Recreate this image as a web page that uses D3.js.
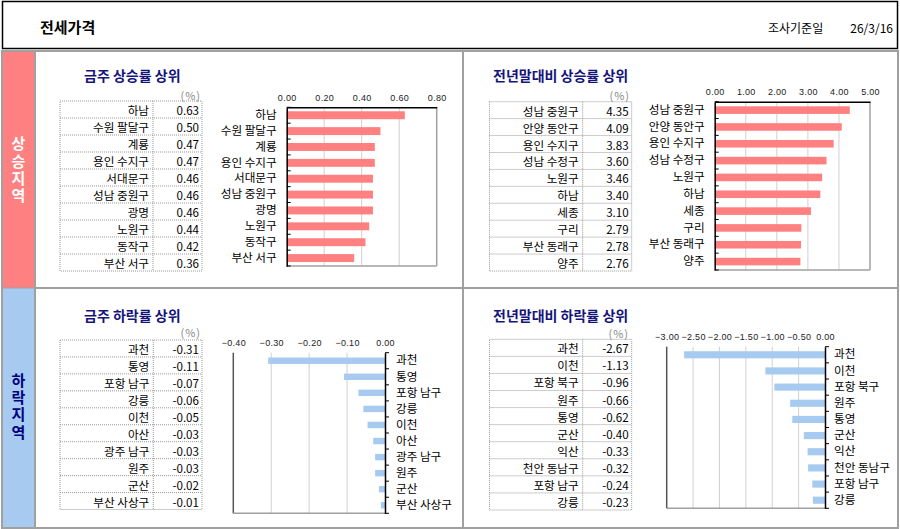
<!DOCTYPE html>
<html><head><meta charset="utf-8">
<script src="https://cdn.jsdelivr.net/npm/d3@7"></script>
<style>
body{margin:0;background:#fff;}
svg text{font-family:"Noto Sans CJK KR","Noto Sans",sans-serif;}
.tick text{font-family:"Liberation Sans",Arial,sans-serif;}
.side{writing-mode:vertical-rl;text-orientation:upright;}
</style></head>
<body><svg id="c" width="900" height="529"></svg>
<script>
// ---- data ----
const headerTitle = "전세가격";
const surveyLabel = "조사기준일";
const surveyDate = "26/3/16";
const sideUp = "상승지역";
const sideDown = "하락지역";

const weekUpNames = ["하남","수원 팔달구","계룡","용인 수지구","서대문구","성남 중원구","광명","노원구","동작구","부산 서구"];
const weekUpValues = [0.63,0.50,0.47,0.47,0.46,0.46,0.46,0.44,0.42,0.36];
const weekUpTicks = [0,0.2,0.4,0.6,0.8];

const ytdUpNames = ["성남 중원구","안양 동안구","용인 수지구","성남 수정구","노원구","하남","세종","구리","부산 동래구","양주"];
const ytdUpValues = [4.35,4.09,3.83,3.60,3.46,3.40,3.10,2.79,2.78,2.76];
const ytdUpTicks = [0,1,2,3,4,5];

const weekDownNames = ["과천","통영","포항 남구","강릉","이천","아산","광주 남구","원주","군산","부산 사상구"];
const weekDownValues = [-0.308,-0.108,-0.070,-0.057,-0.046,-0.031,-0.026,-0.026,-0.016,-0.011];
const weekDownTicks = [-0.4,-0.3,-0.2,-0.1,0];

const ytdDownNames = ["과천","이천","포항 북구","원주","통영","군산","익산","천안 동남구","포항 남구","강릉"];
const ytdDownValues = [-2.67,-1.13,-0.96,-0.66,-0.62,-0.40,-0.33,-0.32,-0.24,-0.23];
const ytdDownTicks = [-3,-2.5,-2,-1.5,-1,-0.5,0];

// ---- drawing ----
const svg = d3.select("#c");
const GRAY = "#a0a0a0", PINK = "#ff8080", BLUE = "#a6caf0", NAVY = "#14147a";
const FS = 11.6;

// header
svg.append("rect").attr("x",2.5).attr("y",1.5).attr("width",895).attr("height",47)
  .attr("fill","#fff").attr("stroke","#000").attr("stroke-width",1.5);
svg.append("text").attr("x",40).attr("y",26).attr("dominant-baseline","central")
  .attr("font-size",15).attr("font-weight","bold").text(headerTitle);
svg.append("text").attr("x",768).attr("y",27).attr("dominant-baseline","central")
  .attr("font-size",12).text(surveyLabel);
svg.append("text").attr("x",893).attr("y",27).attr("dominant-baseline","central")
  .attr("text-anchor","end").attr("font-size",12).text(surveyDate);

// main frame
svg.append("rect").attr("x",2).attr("y",51).attr("width",896).attr("height",477)
  .attr("fill","#fff").attr("stroke",GRAY).attr("stroke-width",2);
svg.append("rect").attr("x",3).attr("y",52).attr("width",32).attr("height",236).attr("fill",PINK);
svg.append("rect").attr("x",3).attr("y",288).attr("width",32).attr("height",239).attr("fill",BLUE);
svg.append("line").attr("x1",35).attr("x2",35).attr("y1",51).attr("y2",528).attr("stroke",GRAY).attr("stroke-width",2);
svg.append("line").attr("x1",35).attr("x2",898).attr("y1",288).attr("y2",288).attr("stroke",GRAY).attr("stroke-width",2);
svg.append("line").attr("x1",3).attr("x2",35).attr("y1",288).attr("y2",288).attr("stroke",GRAY).attr("stroke-width",1);
svg.append("line").attr("x1",463).attr("x2",463).attr("y1",51).attr("y2",528).attr("stroke",GRAY).attr("stroke-width",2);

function sideText(str, cx, yTop, color){
  svg.append("text").attr("class","side").attr("x",cx).attr("y",yTop)
    .attr("font-size",15).attr("font-weight","bold").attr("fill",color)
    .attr("letter-spacing",2.4).text(str);
}
sideText(sideUp,18.5,136,"#fff");
sideText(sideDown,18.5,372.5,"#000080");

function panel(cfg, names, values, ticks, color){
  const g = svg.append("g");
  // title
  g.append("text").attr("x",cfg.tx).attr("y",cfg.ty).attr("dominant-baseline","central")
    .attr("font-size",14).attr("font-weight","bold").attr("fill",NAVY).text(cfg.title);
  // unit
  g.append("text").attr("x",cfg.ux).attr("y",cfg.uy).attr("dominant-baseline","central")
    .attr("text-anchor","end").attr("font-size",11).attr("fill","#888")
    .attr("letter-spacing",1).text("(%)");
  // table
  const rows = d3.scaleBand().domain(names).range([cfg.tTop,cfg.tBot]);
  const tb = g.append("g").attr("stroke","#999").attr("stroke-dasharray","1,1").attr("fill","none");
  tb.append("rect").attr("x",cfg.t0).attr("y",cfg.tTop).attr("width",cfg.t1-cfg.t0).attr("height",cfg.tBot-cfg.tTop);
  tb.append("line").attr("x1",cfg.ts).attr("x2",cfg.ts).attr("y1",cfg.tTop).attr("y2",cfg.tBot);
  tb.selectAll(".rl").data(names.slice(1)).join("line")
    .attr("x1",cfg.t0).attr("x2",cfg.t1).attr("y1",d=>rows(d)).attr("y2",d=>rows(d));
  g.selectAll(".tn").data(names).join("text")
    .attr("x",cfg.ts-4).attr("y",d=>rows(d)+rows.bandwidth()/2+0.5)
    .attr("text-anchor","end").attr("dominant-baseline","central").attr("font-size",FS).text(d=>d);
  g.selectAll(".tv").data(values).join("text")
    .attr("x",cfg.t1-3).attr("y",(d,i)=>rows(names[i])+rows.bandwidth()/2+0.5)
    .attr("text-anchor","end").attr("dominant-baseline","central").attr("font-size",FS)
    .text(d=>d.toFixed(2));

  // chart
  const x = d3.scaleLinear().domain(d3.extent(ticks)).range([cfg.px0,cfg.px1]);
  const y = d3.scaleBand().domain(names).range([cfg.py0,cfg.py1])
    .paddingInner(cfg.pad).paddingOuter(cfg.pad/2);
  // gridlines
  g.selectAll(".gl").data(ticks.slice(1,-1)).join("line")
    .attr("x1",d=>x(d)).attr("x2",d=>x(d)).attr("y1",cfg.py0).attr("y2",cfg.py1)
    .attr("stroke","#d0d0d0").attr("stroke-width",1);
  // frame (gray sides)
  const neg = ticks[0] < 0;
  const farX = neg ? cfg.px0 : cfg.px1;
  g.append("line").attr("x1",farX).attr("x2",farX).attr("y1",cfg.py0).attr("y2",cfg.py1)
    .attr("stroke",neg ? "#555" : GRAY).attr("stroke-width",1.5);
  g.append("line").attr("x1",cfg.px0).attr("x2",cfg.px1).attr("y1",cfg.py1).attr("y2",cfg.py1)
    .attr("stroke",GRAY).attr("stroke-width",1.5);
  // bars
  g.selectAll(".bar").data(values).join("rect")
    .attr("x",d=>x(Math.min(0,d))).attr("width",d=>Math.abs(x(d)-x(0)))
    .attr("y",(d,i)=>y(names[i])).attr("height",y.bandwidth()).attr("fill",color);
  // top value axis
  const ax = g.append("g").attr("transform",`translate(0,${cfg.py0})`)
    .call(d3.axisTop(x).tickValues(ticks).tickSize(0).tickSizeOuter(0).tickPadding(6.5)
      .tickFormat(d3.format(".2f")));
  ax.selectAll("text").attr("font-size",9).attr("fill","#222").attr("letter-spacing",0.3);
  ax.select(".domain").attr("stroke", neg ? "none" : "#000").attr("stroke-width",1.5);
  // category axis
  const zx = x(0);
  const cax = g.append("g").attr("transform",`translate(${zx},0)`)
    .call((neg ? d3.axisRight(y) : d3.axisLeft(y)).tickSize(0).tickSizeOuter(0).tickPadding(cfg.lp));
  cax.selectAll("text").attr("font-size",FS).attr("fill","#000")
    .style("font-family",'"Noto Sans CJK KR",sans-serif');
  cax.select(".domain").attr("stroke","#000").attr("stroke-width",1.5);
  // boundary tick marks
  const step = y.step();
  const bounds = d3.range(names.length+1).map(i=>cfg.py0 + i*step);
  g.selectAll(".bt").data(bounds).join("line")
    .attr("x1",zx).attr("x2",zx + 4).attr("y1",d=>d).attr("y2",d=>d)
    .attr("stroke","#000").attr("stroke-width",1);
}

panel({title:"금주 상승률 상위",tx:84,ty:75,ux:201,uy:95,
  t0:60,ts:153,t1:202,tTop:101,tBot:271,
  px0:286.7,px1:436.7,py0:107.3,py1:266,pad:0.5,lp:10},
  weekUpNames,weekUpValues,weekUpTicks,PINK);

panel({title:"전년말대비 상승률 상위",tx:493,ty:75,ux:630,uy:94.5,
  t0:489.5,ts:582.7,t1:631.7,tTop:101.7,tBot:271,
  px0:714.7,px1:870,py0:101.7,py1:270,pad:0.55,lp:10},
  ytdUpNames,ytdUpValues,ytdUpTicks,PINK);

panel({title:"금주 하락률 상위",tx:84,ty:315,ux:201,uy:332,
  t0:60,ts:153.3,t1:202,tTop:340,tBot:509.5,
  px0:233.3,px1:385,py0:352.7,py1:513.3,pad:0.6,lp:11},
  weekDownNames,weekDownValues,weekDownTicks,BLUE);

panel({title:"전년말대비 하락률 상위",tx:493,ty:315,ux:629,uy:333,
  t0:489.5,ts:582.7,t1:631.7,tTop:339.3,tBot:510,
  px0:666.7,px1:825,py0:346.7,py1:508.3,pad:0.56,lp:9},
  ytdDownNames,ytdDownValues,ytdDownTicks,BLUE);
</script></body></html>
